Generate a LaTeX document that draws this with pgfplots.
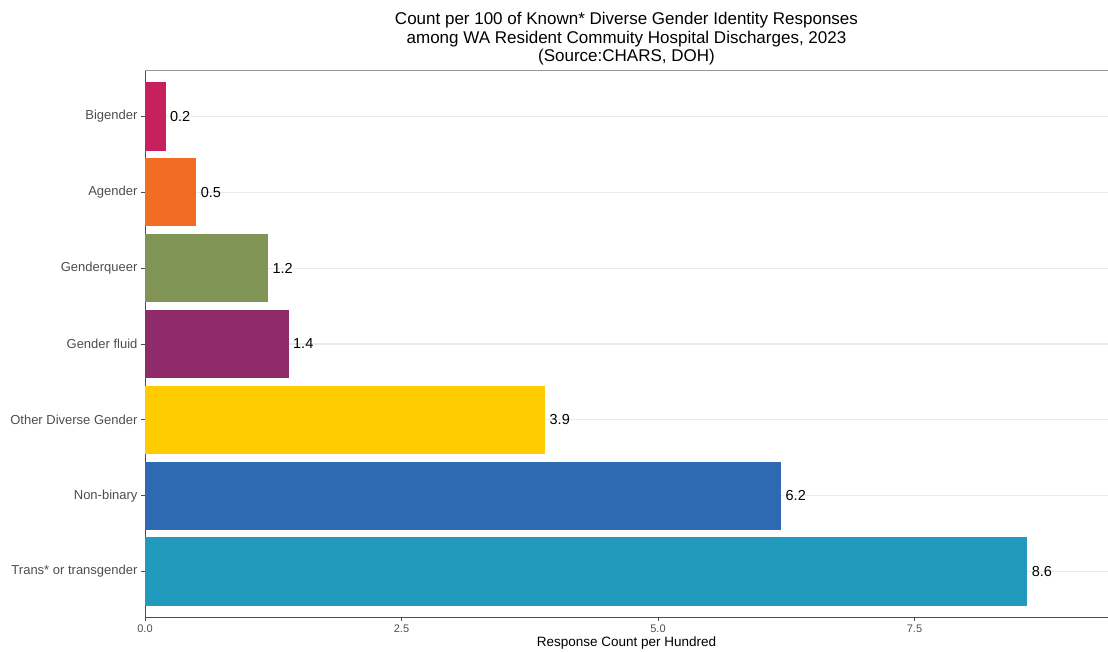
\documentclass[border=0pt]{standalone}
\usepackage{pgfplots}
\pgfplotsset{compat=1.18}
\usepackage{fontspec}
\setmainfont{Liberation Sans}

\definecolor{cBig}{HTML}{C7215D}
\definecolor{cAge}{HTML}{F26C23}
\definecolor{cGq}{HTML}{7F9455}
\definecolor{cFl}{HTML}{8F2B68}
\definecolor{cOth}{HTML}{FFCC00}
\definecolor{cNb}{HTML}{2E6AB2}
\definecolor{cTr}{HTML}{229ABD}
\definecolor{tickgray}{HTML}{4D4D4D}
\definecolor{gridgray}{HTML}{EBEBEB}

\begin{document}
\begin{tikzpicture}[x=1pt,y=1pt]
\useasboundingbox (0,0) rectangle (1108,652);
\begin{axis}[
    at={(145pt,35pt)}, anchor=south west,
    scale only axis, width=963pt, height=546pt,
    xbar, bar width=0.9, bar shift=0pt,
    xmin=0, xmax=9.386,
    ymin=-0.6, ymax=6.6,
    ytick={0,...,6},
    yticklabels={Trans* or transgender,Non-binary,Other Diverse Gender,Gender fluid,Genderqueer,Agender,Bigender},
    xtick={0,2.5,5,7.5},
    /pgf/number format/assume math mode=true,
    xticklabel style={/pgf/number format/fixed,/pgf/number format/fixed zerofill,/pgf/number format/precision=1},
    ticklabel style={font=\fontsize{13}{15}\selectfont, text=tickgray},
    xticklabel style={font=\fontsize{11}{12}\selectfont},
    axis x line*=bottom, axis y line*=left,
    axis line style={draw=tickgray, line width=0.8pt},
    tick style={draw=tickgray, line width=0.8pt},
    tick align=outside, major tick length=4pt,
    ymajorgrids, xmajorgrids=false,
    grid style={draw=gridgray, line width=1.2pt},
    xlabel={Response Count per Hundred},
    xlabel style={font=\fontsize{13.5}{15}\selectfont, yshift=2pt},
    title={Count per 100 of Known* Diverse Gender Identity Responses\\among WA Resident Commuity Hospital Discharges, 2023\\(Source:CHARS, DOH)},
    title style={font=\fontsize{17}{18.5}\selectfont, align=center, yshift=-4pt},
    nodes near coords,
    nodes near coords style={font=\fontsize{14.5}{16}\selectfont, text=black, xshift=1pt,
      /pgf/number format/fixed,/pgf/number format/fixed zerofill,/pgf/number format/precision=1},
    every axis plot/.append style={draw=none},
    clip=false,
]
\addplot[fill=cTr] coordinates {(8.6,0)};
\addplot[fill=cNb] coordinates {(6.2,1)};
\addplot[fill=cOth] coordinates {(3.9,2)};
\addplot[fill=cFl] coordinates {(1.4,3)};
\addplot[fill=cGq] coordinates {(1.2,4)};
\addplot[fill=cAge] coordinates {(0.5,5)};
\addplot[fill=cBig] coordinates {(0.2,6)};
\draw[gray!80, line width=1pt] (rel axis cs:0,1) -- (rel axis cs:1,1);
\end{axis}
\end{tikzpicture}
\end{document}
